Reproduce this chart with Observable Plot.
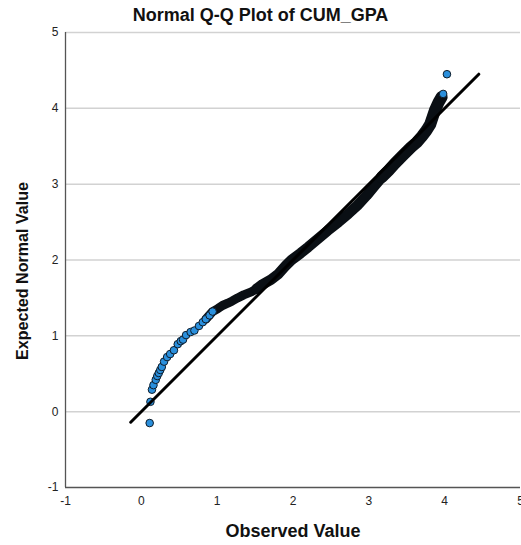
<!DOCTYPE html>
<html>
<head>
<meta charset="utf-8">
<script src="https://cdn.jsdelivr.net/npm/d3@7"></script>
<script src="https://cdn.jsdelivr.net/npm/@observablehq/plot@0.6"></script>
<style>
  html, body { margin: 0; padding: 0; background: #fff; overflow: hidden; }
  #title { height: 26px; text-align: center; padding-left: 4px; position: relative;
           font: bold 18px "Liberation Sans", Arial, sans-serif; color: #111; white-space: nowrap; overflow: visible; }
  #title span { position: absolute; left: 0; right: 0; top: 6px; line-height: 18px; }
  #chart svg { display: block; }
</style>
</head>
<body>
<div id="title"><span>Normal Q-Q Plot of CUM_GPA</span></div>
<div id="chart"></div>
<script>
// ---- data ----
const xTicks = [-1, 0, 1, 2, 3, 4, 5];
const yTicks = [-1, 0, 1, 2, 3, 4, 5];

// sparse lower tail of observations
const lowObserved = [0.11, 0.12, 0.14, 0.16, 0.19, 0.21, 0.23, 0.25, 0.27, 0.30, 0.34, 0.38, 0.43, 0.48, 0.52, 0.55, 0.59, 0.65, 0.70, 0.76, 0.81, 0.85, 0.90, 0.94];
const lowExpected = [-0.15, 0.13, 0.29, 0.35, 0.42, 0.47, 0.51, 0.55, 0.59, 0.66, 0.72, 0.76, 0.81, 0.89, 0.93, 0.95, 1.01, 1.05, 1.07, 1.13, 1.18, 1.22, 1.27, 1.32];

// dense band of overlapping observations
const bandObserved = [0.85, 0.94, 1.01, 1.07, 1.14, 1.20, 1.27, 1.35, 1.45, 1.52, 1.60, 1.71, 1.80, 1.90, 1.98, 2.10, 2.20, 2.33, 2.46, 2.60, 2.73, 2.85, 2.97, 3.07, 3.17, 3.26, 3.34, 3.45, 3.56, 3.63, 3.70, 3.76, 3.81, 3.87, 3.92, 3.96];
const bandExpected = [1.22, 1.32, 1.36, 1.40, 1.43, 1.46, 1.50, 1.54, 1.58, 1.62, 1.68, 1.74, 1.81, 1.92, 2.00, 2.09, 2.17, 2.28, 2.39, 2.50, 2.61, 2.72, 2.85, 2.97, 3.09, 3.18, 3.27, 3.38, 3.49, 3.55, 3.63, 3.71, 3.79, 3.97, 4.08, 4.15];

// upper extreme observations
const topObserved = [3.98, 4.03];
const topExpected = [4.19, 4.45];

// reference line (y = x)
const refObserved = [-0.14, 4.45];
const refExpected = [-0.14, 4.45];

// ---- tables ----
const lowRows = lowObserved.map((x, i) => ({x, y: lowExpected[i]}));
const bandRows = bandObserved.map((x, i) => ({x, y: bandExpected[i]}));
const topRows = topObserved.map((x, i) => ({x, y: topExpected[i]}));
const refRows = refObserved.map((x, i) => ({x, y: refExpected[i]}));

const FONT = '"Liberation Sans", Arial, sans-serif';
const dotFill = "#2a8fdc", dotStroke = "#0e1c2a";

const chart = Plot.plot({
  width: 521,
  height: 519,
  marginTop: 6,
  marginBottom: 58,
  marginLeft: 65,
  marginRight: 1,
  style: {fontFamily: FONT, fontSize: "12px", color: "#222", background: "white", overflow: "visible"},
  x: {domain: [-1, 5], ticks: xTicks, tickSize: 0, tickPadding: 9, label: null, tickFormat: d => String(d)},
  y: {domain: [-1, 5], ticks: yTicks, tickSize: 0, tickPadding: 7, label: null, tickFormat: d => String(d)},
  marks: [
    Plot.ruleY(yTicks.filter(d => d > -1), {stroke: "#d2d2d2", strokeWidth: 1.5}),
    Plot.ruleX([-1], {stroke: "#555", strokeWidth: 1.3}),
    Plot.ruleY([-1], {stroke: "#555", strokeWidth: 1.3}),
    // dense band
    Plot.line(bandRows, {x: "x", y: "y", filter: d => d.x <= 1.6, stroke: "#0a0f14", strokeWidth: 9, strokeLinecap: "round", strokeLinejoin: "round"}),
    Plot.line(bandRows, {x: "x", y: "y", filter: d => d.x >= 1.52 && d.x <= 3.26, stroke: "#0a0f14", strokeWidth: 10.5, strokeLinecap: "round", strokeLinejoin: "round"}),
    Plot.line(bandRows, {x: "x", y: "y", filter: d => d.x >= 3.17, stroke: "#0a0f14", strokeWidth: 12, strokeLinecap: "round", strokeLinejoin: "round"}),
    // sparse points
    Plot.dot(lowRows, {x: "x", y: "y", r: 3.8, fill: dotFill, stroke: dotStroke, strokeWidth: 1}),
    Plot.dot(topRows, {x: "x", y: "y", r: 3.8, fill: dotFill, stroke: dotStroke, strokeWidth: 1}),
    // reference line
    Plot.line(refRows, {x: "x", y: "y", stroke: "#000", strokeWidth: 3}),
    // axis titles
    Plot.text(["Observed Value"], {text: d => d, frameAnchor: "bottom", dy: 49, fontSize: 18, fontWeight: "bold", fill: "#111"}),
    Plot.text(["Expected Normal Value"], {text: d => d, frameAnchor: "left", dx: -43, dy: 11, rotate: -90, fontSize: 17, fontWeight: "bold", fill: "#111"})
  ]
});
document.getElementById("chart").appendChild(chart);

// compress the vertical axis title to the reference's length, keeping it centred
chart.querySelectorAll("text").forEach(t => {
  if (t.textContent === "Expected Normal Value") {
    t.setAttribute("text-anchor", "start");
    t.setAttribute("x", "-89");
    t.setAttribute("textLength", "178");
    t.setAttribute("lengthAdjust", "spacingAndGlyphs");
  }
});
</script>
</body>
</html>
